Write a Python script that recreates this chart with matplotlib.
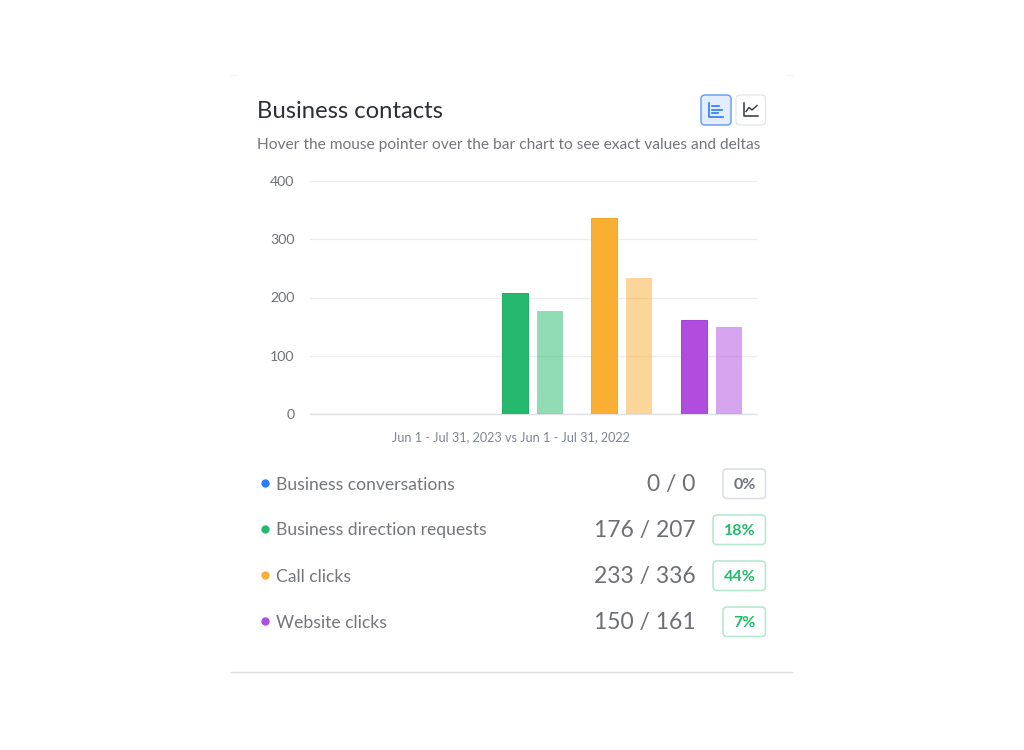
import matplotlib
matplotlib.use("Agg")
import matplotlib.pyplot as plt
from matplotlib.patches import FancyBboxPatch

plt.rcParams['font.family'] = ['Lato', 'DejaVu Sans']

# data
categories = ["Business conversations", "Business direction requests", "Call clicks", "Website clicks"]
previous = [0, 176, 233, 150]
current = [0, 207, 336, 161]
deltas = ["0%", "18%", "44%", "7%"]
yticks = [0, 100, 200, 300, 400]
colors = ["#2b7cf6", "#24b96c", "#faae32", "#b04de0"]
edge_colors = ["#2b7cf6", "#1fae63", "#f5a623", "#a640d8"]
badge_text = ["#6b7280", "#22bb6a", "#22bb6a", "#22bb6a"]
badge_edge = ["#dcdfe4", "#b5ead0", "#b5ead0", "#b5ead0"]
row_y = [483, 529, 575, 621]

W, H = 1024, 750
fig = plt.figure(figsize=(W / 100, H / 100), dpi=100, facecolor="white")

# whole-figure axes in pixels for the card, the text and the buttons
bg = fig.add_axes([0, 0, 1, 1])
bg.set_xlim(0, W)
bg.set_ylim(H, 0)
bg.axis("off")

# card bottom edge and faint top corners
bg.plot([230, 793], [672, 672], color="#e0e0e0", lw=1, solid_capstyle="butt")
bg.plot([230, 236], [75, 75], color="#f5f5f5", lw=1)
bg.plot([787, 793], [75, 75], color="#f5f5f5", lw=1)

bg.text(257, 111, "Business contacts", fontsize=17.2, color="#2b2f36", va="center", ha="left")
bg.text(257, 145, "Hover the mouse pointer over the bar chart to see exact values and deltas",
        fontsize=11.2, color="#73767b", va="center", ha="left")


def button(x, y, w, h, face, edge, lw=1.0):
    bg.add_patch(FancyBboxPatch((x + 3, y + 3), w - 6, h - 6, boxstyle="round,pad=3,rounding_size=4",
                                facecolor=face, edgecolor=edge, lw=lw))


# bar and line chart buttons
button(701, 95, 30, 30, "#e3edfd", "#6aa0f6", 1.1)
button(736, 95, 29.5, 30, "#ffffff", "#e3e5ea", 0.9)
bg.plot([709, 709, 723], [103, 116.5, 116.5], color="#2b7cf6", lw=1.2)
bg.plot([712, 719], [105.5, 105.5], color="#2b7cf6", lw=1.2)
bg.plot([712, 722], [109.5, 109.5], color="#2b7cf6", lw=1.2)
bg.plot([712, 718], [113, 113], color="#2b7cf6", lw=1.2)
bg.plot([744, 744, 758], [103, 116, 116], color="#2f3540", lw=1.1)
bg.plot([746, 749, 752, 757], [111.5, 107.5, 110, 105.5], color="#2f3540", lw=1.0)

# bar chart
ax = fig.add_axes([310 / W, 1 - 414 / H, 447 / W, 233 / H])
ax.set_facecolor("none")
bar_w = 0.29
off = 0.1955
for i in range(1, len(categories)):
    ax.bar(i - off, current[i], bar_w, color=colors[i], edgecolor=edge_colors[i], lw=0.7, zorder=3)
    ax.bar(i + off, previous[i], bar_w, color=colors[i], alpha=0.5, lw=0, zorder=3)
ax.set_xlim(-1.485, 3.51)
ax.set_ylim(0, 400)
ax.set_yticks(yticks)
ax.set_xticks([])
ax.grid(axis="y", color="#ebecee", lw=1, zorder=0)
ax.tick_params(axis="y", length=0, pad=11, labelsize=10.2, labelcolor="#6f7278")
for label in ax.get_yticklabels():
    label.set_y(label.get_position()[1])
for s in ["top", "right", "left"]:
    ax.spines[s].set_visible(False)
ax.spines["bottom"].set_color("#e0e1e4")
ax.spines["bottom"].set_linewidth(1)

bg.text(511, 437, "Jun 1 - Jul 31, 2023 vs Jun 1 - Jul 31, 2022", fontsize=9.05, color="#7d8494",
        va="center", ha="center")

# legend rows
for i, name in enumerate(categories):
    y = row_y[i]
    bg.plot(264.5, y - 0.5, "o", color=colors[i], ms=6, mew=0)
    bg.text(276, y + 1.5, name, fontsize=12.65, color="#73767b", va="center", ha="left")
    bg.text(695.5, y + 1, f"{previous[i]} / {current[i]}", fontsize=16.5, color="#6c6f74", va="center", ha="right")
    bw = 42.5 if len(deltas[i]) < 3 else 52.5
    button(765.5 - bw, y - 14, bw, 29.5, "white", badge_edge[i], 1.2)
    bg.text(766 - bw / 2, y + 2, deltas[i], fontsize=11.5, fontweight="bold", color=badge_text[i],
            va="center", ha="center")

fig.savefig("out.png", dpi=100)
